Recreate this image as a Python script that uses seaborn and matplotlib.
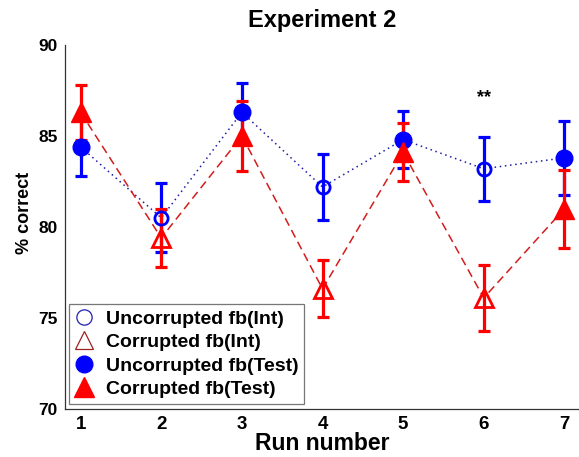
import numpy as np
import pandas as pd
import matplotlib
matplotlib.use("Agg")
import matplotlib.pyplot as plt
from matplotlib.lines import Line2D
import seaborn as sns

# ---- data ----
runs = [1, 2, 3, 4, 5, 6, 7]
run_type = ["Test", "Int", "Test", "Int", "Test", "Int", "Test"]
uncorr_mean = [84.4, 80.5, 86.3, 82.2, 84.8, 83.2, 83.8]
uncorr_err = [1.6, 1.9, 1.6, 1.8, 1.55, 1.75, 2.05]
corr_mean = [86.3, 79.4, 85.0, 76.6, 84.1, 76.1, 81.0]
corr_err = [1.5, 1.6, 1.95, 1.56, 1.6, 1.8, 2.15]
title = "Experiment 2"
xlabel = "Run number"
ylabel = "% correct"
signif_run = 6
signif_text = "**"
signif_y = 87.1
legend_labels = ["Uncorrupted fb(Int)", "Corrupted fb(Int)",
                 "Uncorrupted fb(Test)", "Corrupted fb(Test)"]

df = pd.DataFrame({
    "run": runs * 2,
    "value": uncorr_mean + corr_mean,
    "err": uncorr_err + corr_err,
    "cond": ["Uncorrupted"] * 7 + ["Corrupted"] * 7,
    "type": run_type * 2,
})

sns.set_style("white")
plt.rcParams["font.family"] = ["Liberation Sans", "DejaVu Sans"]
plt.rcParams["font.weight"] = "bold"
for k in ["text.color", "axes.labelcolor", "xtick.color", "ytick.color"]:
    plt.rcParams[k] = "black"

BLUE = "#0000ff"
RED = "#ff0000"

fig = plt.figure(figsize=(5.79, 4.57), dpi=100)
ax = fig.add_axes([64.5 / 579, 1 - 409 / 457, 516 / 579, 364 / 457])

sns.lineplot(data=df, x="run", y="value", hue="cond", style="cond",
             palette={"Uncorrupted": "#1c1ca8", "Corrupted": "#d41c1c"},
             dashes={"Uncorrupted": (1, 2.4), "Corrupted": (5.5, 3.2)},
             hue_order=["Uncorrupted", "Corrupted"],
             linewidth=1.1, legend=False, ax=ax, zorder=2)

for cond, col in [("Uncorrupted", BLUE), ("Corrupted", RED)]:
    sub = df[df["cond"] == cond]
    ax.errorbar(sub["run"], sub["value"], yerr=sub["err"], fmt="none",
                ecolor=col, elinewidth=2.3, capsize=4.5, capthick=2.3, zorder=3)
    test = sub[sub["type"] == "Test"]
    intr = sub[sub["type"] == "Int"]
    if cond == "Uncorrupted":
        ax.plot(test["run"], test["value"], ls="none", marker="o", ms=12,
                mfc=col, mec=col, zorder=4)
        ax.plot(intr["run"], intr["value"], ls="none", marker="o", ms=9.5,
                mfc="none", mec=col, mew=2.0, zorder=4)
    else:
        ax.plot(test["run"], test["value"], ls="none", marker="^", ms=14,
                mfc=col, mec=col, zorder=4)
        ax.plot(intr["run"], intr["value"], ls="none", marker="^", ms=12.5,
                mfc="none", mec=col, mew=2.0, zorder=4)

ax.text(signif_run, signif_y, signif_text, ha="center", va="center",
        fontsize=13, fontweight="bold")

ax.set_xlim(0.8, 7.2)
ax.set_ylim(70, 90)
ax.set_xticks(runs)
ax.set_yticks([70, 75, 80, 85, 90])
ax.tick_params(axis="x", direction="in", length=4, width=0.8, labelsize=13.5,
               pad=5)
ax.tick_params(axis="y", direction="out", length=3, width=0.8, labelsize=12.5,
               pad=2)
for lab in ax.get_xticklabels() + ax.get_yticklabels():
    lab.set_fontweight("bold")

for s in ["top", "right"]:
    ax.spines[s].set_visible(False)
for s in ["left", "bottom"]:
    ax.spines[s].set_color("#333333")
    ax.spines[s].set_linewidth(0.9)

ax.set_title(title, fontsize=17, fontweight="bold", pad=13)
ax.set_xlabel(xlabel, fontsize=16.5, fontweight="bold", labelpad=-1)
ax.set_ylabel(ylabel, fontsize=13, fontweight="bold")
ax.yaxis.set_label_coords(-0.062, 0.54)

handles = [
    Line2D([], [], ls="none", marker="o", ms=11, mfc="none", mec="#2020b0", mew=0.9),
    Line2D([], [], ls="none", marker="^", ms=13, mfc="none", mec="#a02020", mew=0.9),
    Line2D([], [], ls="none", marker="o", ms=12, mfc=BLUE, mec=BLUE),
    Line2D([], [], ls="none", marker="^", ms=14, mfc=RED, mec=RED),
]
leg = ax.legend(handles, legend_labels, loc="lower left",
                bbox_to_anchor=(0.008, 0.014), prop={"size": 14, "weight": "bold"},
                frameon=True, fancybox=False, edgecolor="#555555",
                handlelength=1.0, handletextpad=0.6, labelspacing=0.3,
                borderpad=0.3, borderaxespad=0.0)
leg.get_frame().set_linewidth(0.9)

fig.savefig("out.png", dpi=100)
